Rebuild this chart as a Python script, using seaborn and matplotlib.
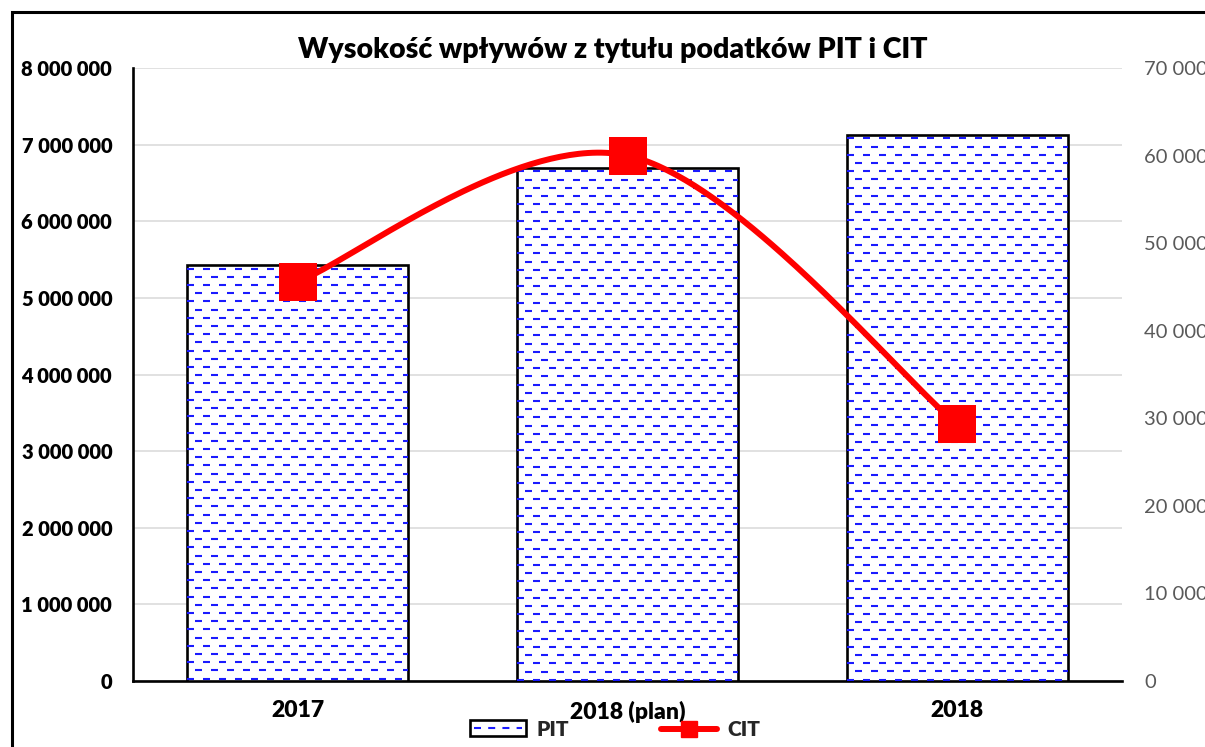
import numpy as np
import pandas as pd
import matplotlib
matplotlib.use("Agg")
import matplotlib.pyplot as plt
import seaborn as sns
from matplotlib.patches import Rectangle
from matplotlib.lines import Line2D
from matplotlib.legend_handler import HandlerBase
from matplotlib.ticker import FuncFormatter

# ---- data ----
categories = ["2017", "2018 (plan)", "2018"]
pit_values = [5430000, 6700000, 7130000]
cit_values = [45600, 60000, 29300]
title_text = "Wysokość wpływów z tytułu podatków PIT i CIT"
left_ticks = [0, 1000000, 2000000, 3000000, 4000000, 5000000, 6000000, 7000000, 8000000]
right_ticks = [0, 10000, 20000, 30000, 40000, 50000, 60000, 70000]

sns.set_theme(style="white")
plt.rcParams["font.family"] = ["Lato", "DejaVu Sans"]
plt.rcParams["lines.scale_dashes"] = False

W, H, DPI = 1205, 747, 100
fig = plt.figure(figsize=(W / DPI, H / DPI), dpi=DPI)
fig.patch.set_facecolor("white")

# outer chart border (cropped)
fig.patches.append(Rectangle((12 / W, -0.1), 1.2, (H - 12) / H + 0.1, transform=fig.transFigure,
                             fill=False, edgecolor="black", linewidth=2.2, zorder=0))

ax = fig.add_axes([133 / W, 1 - 681 / H, (1122 - 133) / W, (681 - 68) / H])
df = pd.DataFrame({"cat": categories, "PIT": pit_values})
sns.barplot(data=df, x="cat", y="PIT", ax=ax, width=0.67, color="white",
            edgecolor="black", linewidth=1.9, zorder=3)
ax.set_xlim(-0.5, 2.5)
ax.set_ylim(0, 8000000)
ax.set_yticks(left_ticks)
ax.yaxis.set_major_formatter(FuncFormatter(lambda v, p: f"{int(v):,}".replace(",", " ")))
ax.grid(axis="y", color="#d9d9d9", linewidth=1.1, zorder=0)
ax.grid(axis="x", visible=False)
ax.set_axisbelow(True)
for s in ["top", "right"]:
    ax.spines[s].set_visible(False)
ax.spines["left"].set_color("black")
ax.spines["left"].set_linewidth(1.9)
ax.spines["bottom"].set_color("black")
ax.spines["bottom"].set_linewidth(1.9)
ax.set_xlabel("")
ax.set_ylabel("")
ax.tick_params(axis="y", length=0, pad=15, labelsize=14.5, labelcolor="black")
ax.tick_params(axis="x", length=0, pad=14, labelsize=16.5, labelcolor="black")
for t in ax.get_yticklabels():
    t.set_fontweight("heavy")
for t in ax.get_xticklabels():
    t.set_fontweight("heavy")

# dashed blue fill pattern inside bars
px_per_unit = (681 - 68) / 8000000.0
row_step = 8.2 / px_per_unit
dash_pt = 7 * 72 / DPI
gap_pt = 9 * 72 / DPI
for bar in list(ax.patches):
    x0 = bar.get_x()
    x1 = x0 + bar.get_width()
    h = bar.get_height()
    ys = np.arange(h - 0.45 * row_step, 0, -row_step)
    for k, off in enumerate([0.0, (dash_pt + gap_pt) / 2]):
        lc = ax.hlines(ys[k::2], x0, x1, colors="#1a1aff", linewidth=1.5,
                       linestyles=[(off, (dash_pt, gap_pt))], zorder=3.5)
        lc.set_clip_path(bar)

# secondary axis: CIT
ax2 = ax.twinx()
ax2.set_ylim(0, 70000)
ax2.set_yticks(right_ticks)
ax2.yaxis.set_major_formatter(FuncFormatter(lambda v, p: f"{int(v):,}".replace(",", " ")))
ax2.tick_params(axis="y", length=0, pad=16, labelsize=14.5, labelcolor="#595959")
ax2.grid(False)
for s in ax2.spines.values():
    s.set_visible(False)

# smoothed (Excel-like Bezier) curve through CIT points
xs = np.arange(len(cit_values), dtype=float)
ys_c = np.array(cit_values, dtype=float)
P = np.column_stack([xs, ys_c])
Pe = np.vstack([P[0], P, P[-1]])
curve = []
t = np.linspace(0, 1, 80)[:, None]
for i in range(len(P) - 1):
    p0, p3 = Pe[i + 1], Pe[i + 2]
    c1 = p0 + (Pe[i + 2] - Pe[i]) / 6.0
    c2 = p3 - (Pe[i + 3] - Pe[i + 1]) / 6.0
    seg = (1 - t) ** 3 * p0 + 3 * (1 - t) ** 2 * t * c1 + 3 * (1 - t) * t ** 2 * c2 + t ** 3 * p3
    curve.append(seg)
curve = np.vstack(curve)
sns.lineplot(x=curve[:, 0], y=curve[:, 1], ax=ax2, color="red", linewidth=4.3,
             sort=False, estimator=None, zorder=5)
sns.scatterplot(x=xs, y=ys_c, ax=ax2, marker="s", s=28 ** 2, color="red",
                edgecolor="red", linewidth=0, zorder=6)
ax2.set_xlim(-0.5, 2.5)

fig.text(613 / W, 1 - 50 / H, title_text, ha="center", va="center",
         fontsize=20.5, fontweight="heavy", color="black")


class PITHandler(HandlerBase):
    def create_artists(self, legend, orig_handle, xdescent, ydescent, width, height, fontsize, trans):
        r = Rectangle((xdescent, ydescent), width, height, facecolor="white",
                      edgecolor="black", linewidth=1.9, transform=trans)
        ln = Line2D([xdescent + 3, xdescent + width - 3], [ydescent + height / 2] * 2,
                    color="#1a1aff", linewidth=1.5, linestyle=(0, (dash_pt, gap_pt * 0.8)),
                    transform=trans)
        return [r, ln]


pit_handle = Rectangle((0, 0), 1, 1)
cit_handle = Line2D([], [], color="red", linewidth=4.3, marker="s", markersize=11)
leg = fig.legend([pit_handle, cit_handle], ["PIT", "CIT"],
                 handler_map={Rectangle: PITHandler()},
                 loc="center", bbox_to_anchor=(615 / W, 1 - 730 / H), ncol=2, frameon=False,
                 fontsize=15, handlelength=2.7, handleheight=0.8, columnspacing=4.4,
                 handletextpad=0.5)
for t in leg.get_texts():
    t.set_fontweight("heavy")

fig.savefig("out.png", dpi=DPI)
